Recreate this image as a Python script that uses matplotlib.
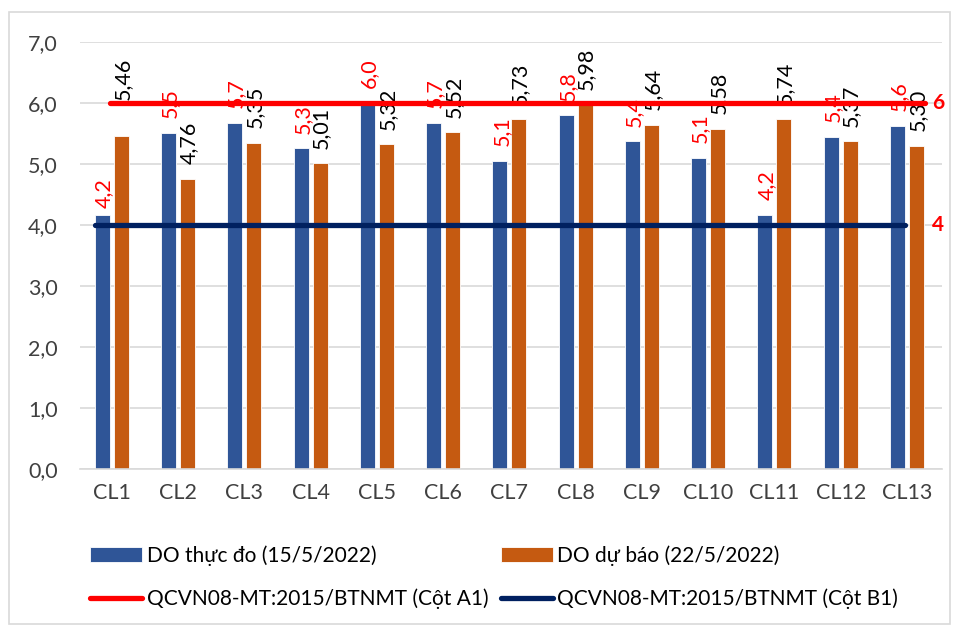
import numpy as np
import matplotlib
matplotlib.use("Agg")
from matplotlib import pyplot as plt
from matplotlib.patches import Rectangle

# du lieu doc tu bieu do
tram = ["CL1", "CL2", "CL3", "CL4", "CL5", "CL6", "CL7", "CL8", "CL9", "CL10", "CL11", "CL12", "CL13"]
do_thuc_do = [4.17, 5.51, 5.68, 5.26, 6.0, 5.68, 5.05, 5.8, 5.37, 5.1, 4.17, 5.45, 5.63]
do_du_bao = [5.46, 4.76, 5.35, 5.01, 5.32, 5.52, 5.73, 5.98, 5.64, 5.58, 5.74, 5.37, 5.30]
nhan_thuc_do = ["4,2", "5,5", "5,7", "5,3", "6,0", "5,7", "5,1", "5,8", "5,4", "5,1", "4,2", "5,4", "5,6"]
qcvn_a1 = 6
qcvn_b1 = 4
yticks = [0, 1, 2, 3, 4, 5, 6, 7]

XANH = "#2F5597"
CAM = "#C55A11"
DO = "#FF0000"
NAVY = "#002060"
XAM = "#D9D9D9"

plt.rcParams['font.family'] = ['Lato', 'DejaVu Sans']

fig = plt.figure(figsize=(9.55, 6.28), dpi=100)
fig.patches.append(Rectangle((9 / 955, 1 - 624 / 628), 941 / 955, 612 / 628,
                             transform=fig.transFigure, fill=False,
                             edgecolor=XAM, linewidth=1.2))

ax = fig.add_axes([80 / 955, 1 - 469 / 628, 862 / 955, 427 / 628])
x = np.arange(len(tram))
w = 0.227
b1 = ax.bar(x - 0.143, do_thuc_do, w, color=XANH, edgecolor="white", linewidth=0.6,
            label="DO thực đo (15/5/2022)", zorder=2)
b2 = ax.bar(x + 0.143, do_du_bao, w, color=CAM, edgecolor="white", linewidth=0.6,
            label="DO dự báo (22/5/2022)", zorder=2)

l1, = ax.plot([-0.03, 12.27], [qcvn_a1, qcvn_a1], color=DO, linewidth=3.8,
              solid_capstyle="round", zorder=5, label="QCVN08-MT:2015/BTNMT (Cột A1)")
l2, = ax.plot([-0.26, 11.97], [qcvn_b1, qcvn_b1], color=NAVY, linewidth=3.8,
              solid_capstyle="round", zorder=5, label="QCVN08-MT:2015/BTNMT (Cột B1)")
ax.text(12.47, qcvn_a1, str(qcvn_a1), color=DO, fontsize=15, fontweight="bold",
        ha="center", va="center")
ax.text(12.47, qcvn_b1, str(qcvn_b1), color=DO, fontsize=15, fontweight="bold",
        ha="center", va="center")

# nhan so lieu
for i in range(len(tram)):
    g1 = 5 if i == 0 else 10.5
    g2 = 26 if i == 0 else 10.5
    ax.annotate(nhan_thuc_do[i], (x[i] - 0.12, do_thuc_do[i]), xytext=(0, g1),
                textcoords="offset points", rotation=90, ha="center", va="bottom",
                color=DO, fontsize=15.5, zorder=3)
    ax.annotate(f"{do_du_bao[i]:.2f}".replace(".", ","), (x[i] + 0.16, do_du_bao[i]),
                xytext=(0, g2), textcoords="offset points", rotation=90,
                ha="center", va="bottom", color="black", fontsize=15.5, zorder=3)

ax.set_xlim(-0.48, 12.53)
ax.set_ylim(0, 7)
ax.set_yticks(yticks)
ax.set_yticklabels([f"{v:.1f}".replace(".", ",") for v in yticks])
ax.set_xticks(x)
ax.set_xticklabels(tram)
ax.tick_params(axis="y", length=0, pad=16, labelsize=15.5, labelcolor="#404040")
ax.tick_params(axis="x", length=0, pad=10, labelsize=15.5, labelcolor="#404040")
ax.grid(axis="y", color=XAM, linewidth=1.2, zorder=0)
ax.set_axisbelow(True)
for s in ["left", "right", "top"]:
    ax.spines[s].set_visible(False)
ax.spines["bottom"].set_color(XAM)
ax.spines["bottom"].set_linewidth(1.2)

fig.legend([b1, l1, b2, l2],
           [b1.get_label(), l1.get_label(), b2.get_label(), l2.get_label()],
           loc="center left", bbox_to_anchor=(90 / 955, 1 - 577 / 628),
           ncol=2, frameon=False, fontsize=15, borderpad=0, borderaxespad=0,
           handlelength=2.5, handleheight=0.7, handletextpad=0.22,
           columnspacing=0.6, labelspacing=1.1, labelcolor="black")

fig.savefig("out.png", dpi=100)
